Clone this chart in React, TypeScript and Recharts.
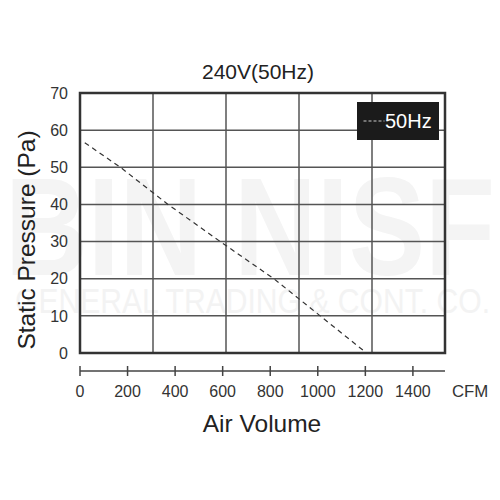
import React from 'react';
import {
  LineChart,
  Line,
  XAxis,
  YAxis,
  CartesianGrid,
  ReferenceArea,
  Legend
} from 'recharts';

// readings (CFM vs Pa)
const airVolume = [20, 170, 370, 590, 815, 1010, 1205];
const pressure = [56.6, 50, 40, 30, 20, 10, 0];

const cfmTicks = [0, 200, 400, 600, 800, 1000, 1200, 1400];
const gridTicks = [0, 307, 614, 921, 1228, 1535];
const pressureTicks = [0, 10, 20, 30, 40, 50, 60, 70];
const cfmMax = 1535;
const seriesName = '50Hz';

const FONT = '"Liberation Sans", Arial, sans-serif';

const data = airVolume.map((cfm, i) => ({ cfm, pressure: pressure[i] }));

function CfmTick({ x, y, payload }: any) {
  return (
    <g>
      <line x1={x} x2={x} y1={y + 13} y2={y + 23} stroke="#444" strokeWidth={1.5} />
      <text x={x} y={y + 44} textAnchor="middle" fontSize={16} fill="#333" fontFamily={FONT}>
        {payload.value}
      </text>
    </g>
  );
}

function LegendBox() {
  return (
    <svg width={82} height={38} style={{ display: 'block' }}>
      <rect x={0} y={0} width={82} height={38} fill="#1b1b1b" />
      <line x1={6.5} x2={27.5} y1={19} y2={19} stroke="#ccc" strokeWidth={1.2} strokeDasharray="3 2" />
      <text x={28} y={26} fontSize={20} fill="#fff" fontFamily={FONT}>{seriesName}</text>
    </svg>
  );
}

export default function App() {
  return (
    <div style={{ position: 'absolute', left: 0, top: 0, width: 500, height: 500, background: '#fff' }}>
      {/* watermark + titles */}
      <svg width={500} height={500} style={{ position: 'absolute', left: 0, top: 0 }}>
        <text x={5} y={275} fontSize={140} fontWeight="bold" fill="#f4f4f4" fontFamily={FONT}
          textLength={490} lengthAdjust="spacingAndGlyphs">BIN NISF</text>
        <text x={15} y={313} fontSize={35} fill="#f3f3f3" fontFamily={FONT}
          textLength={475} lengthAdjust="spacingAndGlyphs">GENERAL TRADING &amp; CONT. CO.</text>
        <text x={258} y={79} fontSize={21} textAnchor="middle" fill="#222" fontFamily={FONT}>240V(50Hz)</text>
        <text x={262} y={432} fontSize={24.5} textAnchor="middle" fill="#222" fontFamily={FONT}>Air Volume</text>
        <text x={452} y={397} fontSize={16.8} fill="#333" fontFamily={FONT}>CFM</text>
        <text x={35} y={240} fontSize={24.5} textAnchor="middle" fill="#222" fontFamily={FONT}
          transform="rotate(-90 35 240)">Static Pressure (Pa)</text>
      </svg>
      <div style={{ position: 'absolute', left: 0, top: 0 }}>
        <LineChart width={500} height={500} data={data} margin={{ top: 93, right: 55, bottom: 0, left: 0 }}>
          <CartesianGrid
            stroke="#555"
            strokeWidth={1.5}
            horizontalValues={pressureTicks}
            verticalValues={gridTicks}
          />
          <XAxis
            dataKey="cfm"
            type="number"
            domain={[0, cfmMax]}
            allowDataOverflow
            ticks={cfmTicks}
            interval={0}
            height={147}
            tickLine={false}
            tickSize={0}
            tickMargin={0}
            axisLine={{ stroke: '#444', strokeWidth: 1.5, transform: 'translate(0,18)' }}
            tick={<CfmTick />}
          />
          <YAxis
            type="number"
            domain={[0, 70]}
            ticks={pressureTicks}
            interval={0}
            width={80}
            axisLine={false}
            tickLine={false}
            tickSize={0}
            tickMargin={12}
            tick={{ fontSize: 16, fill: '#333', fontFamily: FONT }}
          />
          <ReferenceArea x1={0} x2={cfmMax} y1={0} y2={70} fill="none" stroke="#333" strokeWidth={2.5} />
          <Legend
            layout="vertical"
            align="center"
            verticalAlign="middle"
            content={<LegendBox />}
            wrapperStyle={{ left: 357, top: 102, width: 82, height: 38 }}
          />
          <Line
            type="linear"
            dataKey="pressure"
            name={seriesName}
            stroke="#333"
            strokeWidth={1.2}
            strokeDasharray="5 4"
            dot={false}
            isAnimationActive={false}
          />
        </LineChart>
      </div>
    </div>
  );
}
